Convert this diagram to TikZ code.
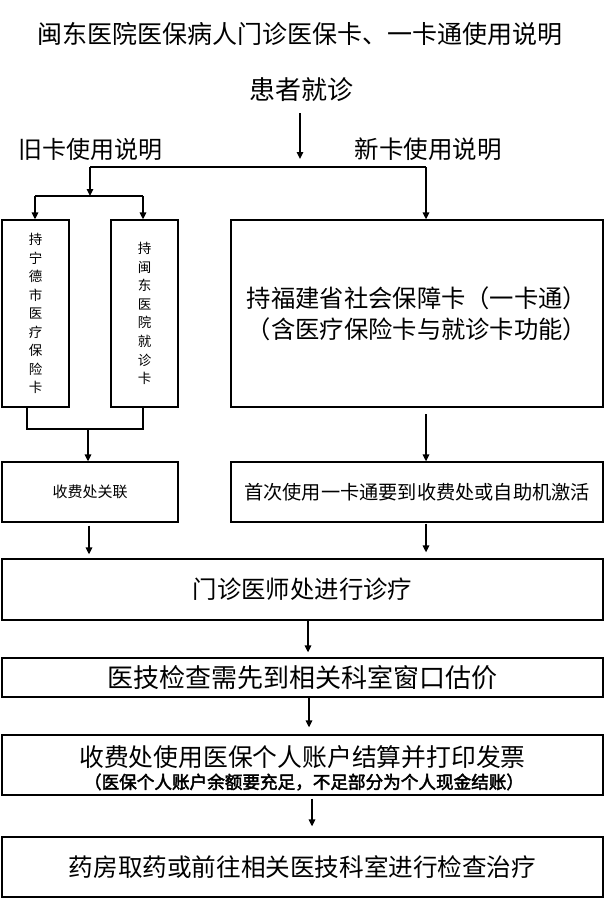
\documentclass[tikz,border=0pt]{standalone}
\usepackage{fontspec}
\setmainfont{Noto Sans CJK SC}[AutoFakeBold=2.5]
\usetikzlibrary{arrows.meta}
\begin{document}
\begin{tikzpicture}[x=1pt,y=-1pt,
  box/.style={draw, line width=1.3pt, inner sep=0pt, align=center},
  lbl/.style={inner sep=0pt, align=center},
  arr/.style={line width=1.5pt, -{Triangle[length=7pt,width=6.5pt]}},
  ln/.style={line width=1.5pt}]
\useasboundingbox (0,0) rectangle (605,900);
% titles
\node[lbl, font=\fontsize{25}{30}\selectfont] (title) at (300,34) {闽东医院医保病人门诊医保卡、一卡通使用说明};
\node[lbl, font=\fontsize{26}{30}\selectfont] (pat) at (301,90) {患者就诊};
\node[lbl, font=\fontsize{24}{30}\selectfont] (old) at (91,149) {旧卡使用说明};
\node[lbl, font=\fontsize{24.5}{30}\selectfont] (new) at (428,149) {新卡使用说明};
% boxes
\node[box, minimum width=67pt, minimum height=187pt, font=\fontsize{13.5}{18.5}\selectfont] (A) at (35.5,313.5) {持\\宁\\德\\市\\医\\疗\\保\\险\\卡};
\node[box, minimum width=67pt, minimum height=187pt, font=\fontsize{13.5}{18.6}\selectfont] (B) at (144.5,313.5) {持\\闽\\东\\医\\院\\就\\诊\\卡};
\node[box, minimum width=372pt, minimum height=187pt, font=\fontsize{24.3}{31}\selectfont] (C) at (417,313.5) {持福建省社会保障卡（一卡通）\\（含医疗保险卡与就诊卡功能）};
\node[box, minimum width=176pt, minimum height=60pt, font=\fontsize{15}{18}\selectfont] (D) at (90,492) {收费处关联};
\node[box, minimum width=372pt, minimum height=60pt, font=\fontsize{19.2}{22}\selectfont] (E) at (417,492) {首次使用一卡通要到收费处或自助机激活};
\node[box, minimum width=601pt, minimum height=61pt, font=\fontsize{24.4}{28}\selectfont] (F) at (302.5,589.5) {门诊医师处进行诊疗};
\node[box, minimum width=601pt, minimum height=39pt, font=\fontsize{26}{28}\selectfont] (G) at (302.5,677.5) {医技检查需先到相关科室窗口估价};
\node[box, minimum width=601pt, minimum height=60pt] (H) at (302.5,765) {};
\node[lbl, font=\fontsize{24.8}{28}\selectfont] (H1) at (302.5,757) {收费处使用医保个人账户结算并打印发票};
\node[lbl, font=\bfseries\fontsize{17.6}{20}\selectfont] (H2) at (304,782) {（医保个人账户余额要充足，不足部分为个人现金结账）};
\node[box, minimum width=601pt, minimum height=60pt, font=\fontsize{24.6}{28}\selectfont] (I) at (302.5,867) {药房取药或前往相关医技科室进行检查治疗};
% connector coordinates
\coordinate (p1) at (300,113);
\coordinate (p2) at (300,159);
\coordinate (sL) at (90,167);
\coordinate (sR) at (426,167);
\coordinate (oL) at (35,196);
\coordinate (oR) at (143,196);
\coordinate (aB) at (27,429);
\coordinate (bB) at (143,429);
\coordinate (jm) at (88,429);
\coordinate (cS) at (426,414);
% connectors
\draw[arr] (p1) -- (p2);
\draw[ln] (sL) -- (sR);
\draw[arr] (sL) -- (sL |- oL);
\draw[ln] (oL) -- (oR);
\draw[arr] (oL) -- (oL |- A.north);
\draw[arr] (oR) -- (oR |- B.north);
\draw[arr] (sR) -- (sR |- C.north);
\draw[ln] (aB |- A.south) -- (aB) -- (bB) -- (bB |- B.south);
\draw[arr] (jm) -- (jm |- D.north);
\draw[arr] (cS) -- (cS |- E.north);
\draw[arr] ([xshift=-1pt, yshift=-3pt]D.south) -- ([xshift=-1pt, yshift=4pt]D.south |- F.north);
\draw[arr] ([xshift=9pt, yshift=-1pt]E.south) -- ([xshift=9pt, yshift=6pt]E.south |- F.north);
\draw[arr] ([xshift=5.5pt]F.south) -- ([xshift=5.5pt, yshift=5pt]F.south |- G.north);
\draw[arr] ([xshift=6.5pt]G.south) -- ([xshift=6.5pt, yshift=7pt]G.south |- H.north);
\draw[arr] ([xshift=9.5pt, yshift=-3pt]H.south) -- ([xshift=9.5pt, yshift=10pt]H.south |- I.north);
\end{tikzpicture}
\end{document}
